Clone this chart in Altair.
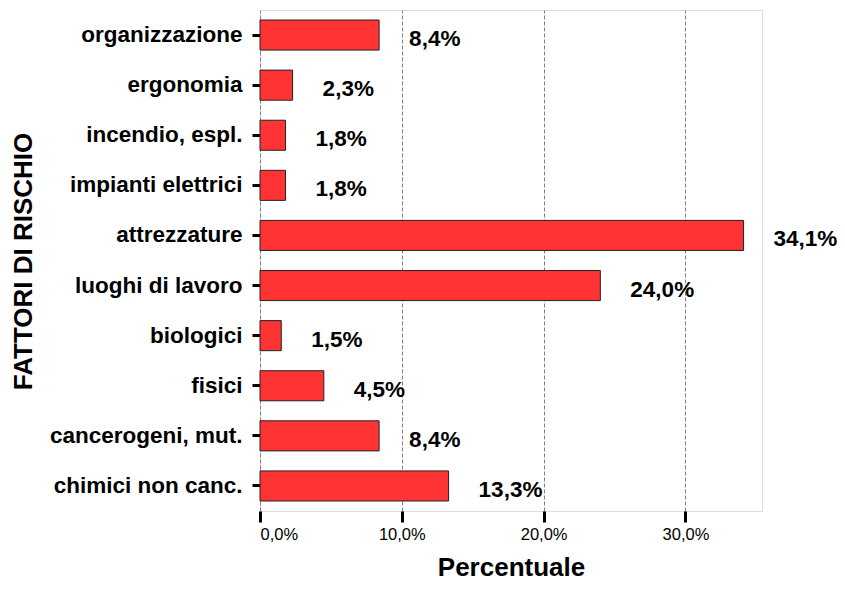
import altair as alt
import pandas as pd

categories = ["organizzazione", "ergonomia", "incendio, espl.", "impianti elettrici",
              "attrezzature", "luoghi di lavoro", "biologici", "fisici",
              "cancerogeni, mut.", "chimici non canc."]
values = [8.4, 2.3, 1.8, 1.8, 34.1, 24.0, 1.5, 4.5, 8.4, 13.3]
x_ticks = [0, 10, 20, 30]

df = pd.DataFrame({"cat": categories, "val": values})
df["lab"] = [f"{v:.1f}%".replace(".", ",") for v in values]

FONT = "Liberation Sans"

x_enc = alt.X("val:Q",
              scale=alt.Scale(domain=[0, 35.4], nice=False, zero=True),
              axis=alt.Axis(values=x_ticks,
                            labelExpr="replace(format(datum.value, '.1f'), '.', ',') + '%'",
                            title="Percentuale", grid=True,
                            gridDash=[4, 2], gridColor="#808080", gridWidth=1,
                            domain=False, tickColor="black", tickWidth=3, tickSize=11,
                            labelFontSize=16.5, labelFont=FONT, labelColor="black",
                            labelPadding=4,
                            titleFontSize=26, titleFont=FONT, titleFontWeight="bold",
                            titleColor="black", titleY=64, titleBaseline="alphabetic",
                            titleX=251, titleAlign="center"))

y_enc = alt.Y("cat:N", sort=categories,
              scale=alt.Scale(paddingInner=0.4, paddingOuter=0.2),
              axis=alt.Axis(title="FATTORI DI RISCHIO", grid=False, domain=False,
                            tickColor="black", tickWidth=3, tickSize=8,
                            labelFontSize=22.5, labelFont=FONT, labelFontWeight="bold",
                            labelColor="black", labelPadding=10, labelLimit=0,
                            titleFontSize=26, titleFont=FONT, titleFontWeight="bold",
                            titleColor="black", titleAngle=-90,
                            titleX=-237, titleY=251, titleAlign="center",
                            titleBaseline="middle"))

bars = alt.Chart(df).mark_bar(color="#ff3333", stroke="#222222", strokeWidth=1).encode(
    x=x_enc, y=y_enc)

labels = alt.Chart(df).mark_text(align="left", baseline="middle", dx=30, dy=4,
                                 fontSize=22.5, font=FONT, fontWeight="bold",
                                 color="black").encode(
    x=alt.X("val:Q"), y=alt.Y("cat:N", sort=categories), text="lab:N")

chart = (bars + labels).properties(
    width=502, height=501,
    autosize=alt.AutoSizeParams(type="none"),
    padding={"left": 252, "top": 2, "right": 75, "bottom": 71},
).configure_view(stroke="#8c8c8c", strokeWidth=2).configure(background="white")

chart.save("out.html", embed_options={"renderer": "svg", "actions": False})
